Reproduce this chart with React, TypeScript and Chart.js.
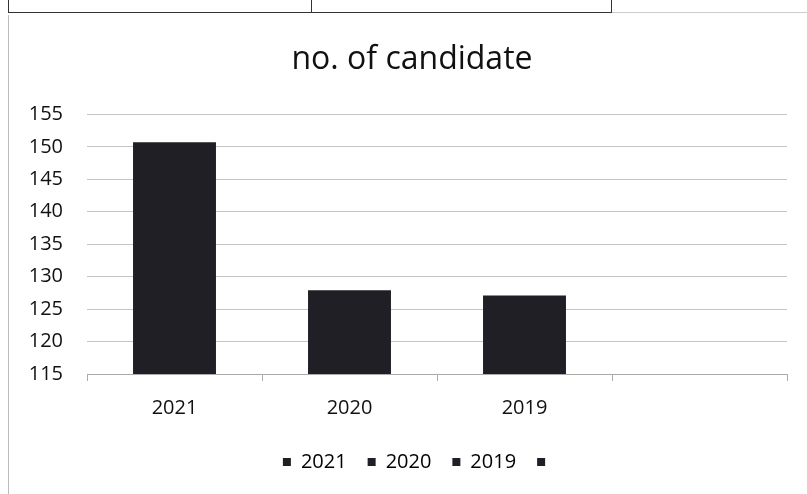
import React, { useEffect, useRef } from "react";
import { Chart, registerables } from "chart.js";

Chart.register(...registerables);

const categories = ["2021", "2020", "2019", ""];
const candidates = [150.7, 127.9, 127.1, null];
const yTicks = [115, 120, 125, 130, 135, 140, 145, 150, 155];
const chartTitle = "no. of candidate";

const FONT = "'Open Sans', sans-serif";
const BAR = "#1f1f25";

const shiftBlocks = {
  id: "shiftBlocks",
  afterLayout(chart: any) {
    const t = chart.titleBlock;
    if (t) {
      t.left += 14;
      t.right += 14;
    }
    const l = chart.legend;
    if (l) {
      l.left += 21;
      l.right += 21;
    }
  },
};

export default function App() {
  const ref = useRef<HTMLCanvasElement | null>(null);

  useEffect(() => {
    if (!ref.current) return;
    const chart = new Chart(ref.current, {
      type: "bar",
      plugins: [shiftBlocks],
      data: {
        labels: categories,
        datasets: [
          {
            label: chartTitle,
            data: candidates,
            backgroundColor: BAR,
            borderWidth: 0,
            categoryPercentage: 1,
            barPercentage: 0.474,
          },
        ],
      },
      options: {
        animation: false,
        responsive: true,
        maintainAspectRatio: false,
        layout: { padding: { left: 0, right: 20, top: 0, bottom: 12 } },
        plugins: {
          title: {
            display: true,
            text: chartTitle,
            color: "#111",
            font: { family: FONT, size: 32, weight: "normal" },
            padding: { top: 25, bottom: 35 },
          },
          legend: {
            display: true,
            position: "bottom",
            labels: {
              color: "#111",
              font: { family: FONT, size: 20 },
              boxWidth: 8,
              boxHeight: 8,
              padding: 21,
              generateLabels: () =>
                categories.map((c, i) => ({
                  text: c,
                  fillStyle: BAR,
                  strokeStyle: BAR,
                  lineWidth: 0,
                  hidden: false,
                  index: i,
                  datasetIndex: 0,
                })),
            },
          },
          tooltip: { enabled: false },
        },
        scales: {
          x: {
            grid: {
              display: true,
              offset: true,
              drawOnChartArea: false,
              drawTicks: true,
              tickLength: 7,
              color: "#aaa",
            },
            border: { display: true, color: "#aaa" },
            ticks: {
              color: "#111",
              font: { family: FONT, size: 20 },
              padding: 15,
            },
            afterFit: (scale: any) => {
              scale.height -= 4;
            },
          },
          y: {
            min: yTicks[0],
            max: yTicks[yTicks.length - 1],
            afterBuildTicks: (scale: any) => {
              scale.ticks = yTicks.map((v) => ({ value: v }));
            },
            afterFit: (scale: any) => {
              scale.width = 78;
            },
            grid: { color: "#c4c4c4", drawTicks: false },
            border: { display: false },
            ticks: {
              color: "#111",
              font: { family: FONT, size: 20 },
              padding: 24,
            },
          },
        },
      },
    });
    return () => chart.destroy();
  }, []);

  return (
    <div
      style={{
        position: "absolute",
        left: 0,
        top: 0,
        width: 807,
        height: 494,
        background: "#fff",
        overflow: "hidden",
      }}
    >
      <div
        style={{
          position: "absolute",
          left: 8,
          top: -3,
          width: 302,
          height: 15,
          border: "1.5px solid #333",
          borderTop: "none",
          borderRight: "1px solid #333",
        }}
      />
      <div
        style={{
          position: "absolute",
          left: 310,
          top: -3,
          width: 301,
          height: 15,
          border: "1.5px solid #333",
          borderTop: "none",
          borderLeft: "none",
        }}
      />
      <div
        style={{
          position: "absolute",
          left: 612,
          top: 12,
          width: 195,
          height: 0,
          borderTop: "1px solid #ccc",
        }}
      />
      <div
        style={{
          position: "absolute",
          left: 8,
          top: 15,
          width: 0,
          height: 479,
          borderLeft: "1px solid #bbb",
        }}
      />
      <div
        style={{
          position: "absolute",
          left: 9,
          top: 16,
          width: 798,
          height: 478,
        }}
      >
        <canvas ref={ref} />
      </div>
    </div>
  );
}
